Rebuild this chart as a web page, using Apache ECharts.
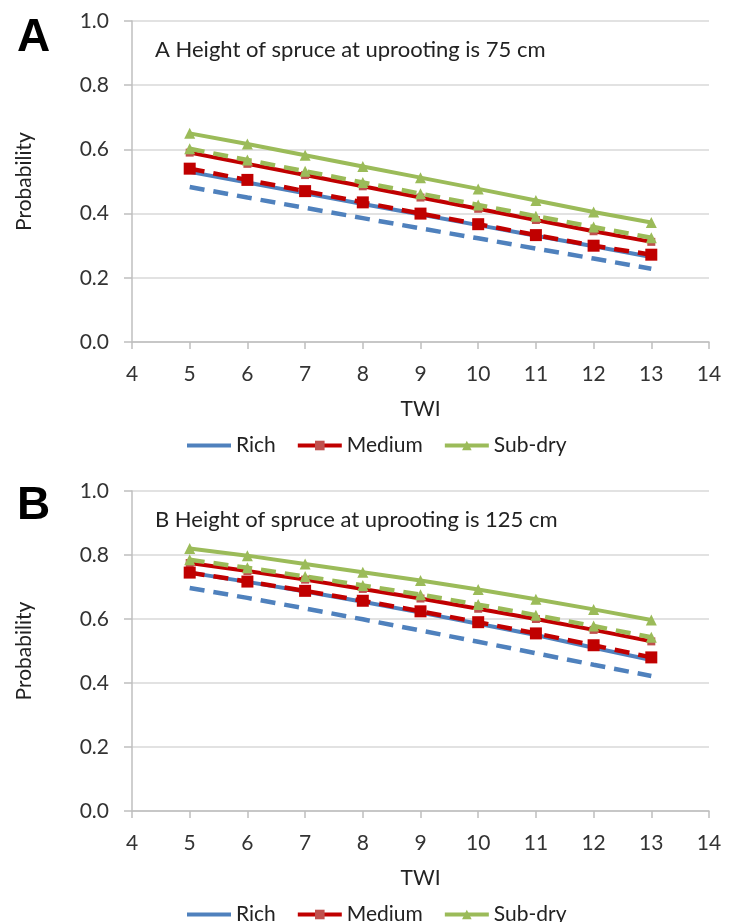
<!DOCTYPE html>
<html>
<head>
<meta charset="utf-8">
<script src="https://cdn.jsdelivr.net/npm/echarts@6/dist/echarts.min.js"></script>
<style>
  html, body { margin: 0; padding: 0; background: #fff; }
  #chart { width: 729px; height: 922px; }
</style>
</head>
<body>
<div id="chart"></div>
<script>
var twi = [5, 6, 7, 8, 9, 10, 11, 12, 13];

// panel A, spruce 75 cm
var richA      = [0.530, 0.497, 0.463, 0.430, 0.397, 0.364, 0.331, 0.298, 0.265];
var richDashA  = [0.483, 0.450, 0.418, 0.386, 0.354, 0.323, 0.291, 0.260, 0.228];
var medA       = [0.590, 0.555, 0.520, 0.485, 0.450, 0.415, 0.380, 0.345, 0.312];
var medDashA   = [0.540, 0.505, 0.470, 0.435, 0.400, 0.367, 0.333, 0.300, 0.272];
var dryA       = [0.650, 0.617, 0.582, 0.547, 0.512, 0.477, 0.441, 0.405, 0.372];
var dryDashA   = [0.602, 0.567, 0.532, 0.497, 0.462, 0.427, 0.392, 0.358, 0.325];

// panel B, spruce 125 cm
var richB      = [0.745, 0.716, 0.686, 0.654, 0.620, 0.585, 0.550, 0.510, 0.472];
var richDashB  = [0.697, 0.666, 0.633, 0.599, 0.564, 0.529, 0.493, 0.457, 0.422];
var medB       = [0.775, 0.750, 0.723, 0.694, 0.664, 0.632, 0.600, 0.566, 0.530];
var medDashB   = [0.745, 0.717, 0.688, 0.657, 0.624, 0.590, 0.555, 0.518, 0.480];
var dryB       = [0.820, 0.798, 0.772, 0.746, 0.720, 0.692, 0.662, 0.630, 0.597];
var dryDashB   = [0.785, 0.760, 0.733, 0.705, 0.676, 0.645, 0.612, 0.578, 0.543];

var legendNames = ['Rich', 'Medium', 'Sub-dry'];
var titleA = 'A Height of spruce at uprooting is 75 cm';
var titleB = 'B Height of spruce at uprooting is 125 cm';

var FONT = 'Lato';
var TXT = '#333';
var BLUE = '#4f81bd', RED = '#c00000', RED2 = '#c0504d', GREEN = '#9bbb59';

function pairs(ys) {
    return twi.map(function (x, i) { return [x, ys[i]]; });
}

function xAxisCfg(idx) {
    return {
        type: 'value', gridIndex: idx, min: 4, max: 14, interval: 1,
        name: 'TWI', nameLocation: 'middle', nameGap: 57,
        nameTextStyle: { fontFamily: FONT, fontSize: 21, color: '#222' },
        axisLine: { show: true, onZero: false, lineStyle: { color: '#bfbfbf', width: 1.5 } },
        axisTick: { show: true, length: 7, lineStyle: { color: '#bfbfbf', width: 1.5 } },
        axisLabel: { fontFamily: FONT, fontSize: 21, color: TXT, margin: 22 },
        splitLine: { show: false }
    };
}

function yAxisCfg(idx) {
    return {
        type: 'value', gridIndex: idx, min: 0, max: 1, interval: 0.2,
        name: 'Probability', nameLocation: 'middle', nameGap: 97, nameRotate: 90,
        nameTextStyle: { fontFamily: FONT, fontSize: 21, color: '#222' },
        axisLine: { show: true, lineStyle: { color: '#bfbfbf', width: 1.5 } },
        axisTick: { show: true, length: 8, lineStyle: { color: '#bfbfbf', width: 1.5 } },
        axisLabel: {
            fontFamily: FONT, fontSize: 21, color: TXT, margin: 23,
            formatter: function (v) { return v.toFixed(1); }
        },
        splitLine: { show: true, lineStyle: { color: '#d9d9d9', width: 1.5 } }
    };
}

function lineSeries(name, data, idx, color, dashed, symbol, symSize, symColor) {
    return {
        name: name, type: 'line', xAxisIndex: idx, yAxisIndex: idx,
        data: pairs(data),
        symbol: symbol, symbolSize: symSize,
        showSymbol: symbol !== 'none',
        itemStyle: { color: symColor || color },
        lineStyle: { color: color, width: dashed ? 4.5 : 4, type: dashed ? [15, 9] : 'solid' },
        emphasis: { disabled: true },
        animation: false,
        z: dashed ? 3 : 2
    };
}

function panelSeries(idx, rich, richDash, med, medDash, dry, dryDash) {
    return [
        lineSeries('Rich', rich, idx, BLUE, false, 'none', 0),
        lineSeries('Rich dashed', richDash, idx, BLUE, true, 'none', 0),
        lineSeries('Medium', med, idx, RED, false, 'rect', 8, RED2),
        lineSeries('Medium dashed', medDash, idx, RED, true, 'rect', 12, RED),
        lineSeries('Sub-dry', dry, idx, GREEN, false, 'triangle', 11, GREEN),
        lineSeries('Sub-dry dashed', dryDash, idx, GREEN, true, 'triangle', 11, GREEN)
    ];
}

var chart = echarts.init(document.getElementById('chart'));

var legendCfg = function (top) {
    return {
        data: [
            { name: legendNames[0], itemStyle: { opacity: 0 } },
            { name: legendNames[1], itemStyle: { color: RED2 } },
            { name: legendNames[2] }
        ],
        top: top, left: 180,
        itemWidth: 44, itemHeight: 12, itemGap: 20,
        lineStyle: { width: 4 },
        textStyle: { fontFamily: FONT, fontSize: 21, color: '#222' },
        selectedMode: false
    };
};

var opt = {
    backgroundColor: '#fff',
    animation: false,
    title: [
        { text: 'A', left: 12, top: 10, textStyle: { fontFamily: 'Liberation Sans', fontSize: 46, fontWeight: 'bold', color: '#000' } },
        { text: 'B', left: 12, top: 478, textStyle: { fontFamily: 'Liberation Sans', fontSize: 46, fontWeight: 'bold', color: '#000' } },
        { text: titleA, left: 150, top: 34, textStyle: { fontFamily: FONT, fontSize: 22, fontWeight: 'normal', color: '#222' } },
        { text: titleB, left: 150, top: 504, textStyle: { fontFamily: FONT, fontSize: 22, fontWeight: 'normal', color: '#222' } }
    ],
    legend: [legendCfg(430), legendCfg(899)],
    grid: [
        { left: 132, right: 20, top: 21, height: 321 },
        { left: 132, right: 20, top: 491, height: 320 }
    ],
    xAxis: [xAxisCfg(0), xAxisCfg(1)],
    yAxis: [yAxisCfg(0), yAxisCfg(1)],
    series: panelSeries(0, richA, richDashA, medA, medDashA, dryA, dryDashA)
        .concat(panelSeries(1, richB, richDashB, medB, medDashB, dryB, dryDashB))
};

chart.setOption(opt, true);
</script>
</body>
</html>
